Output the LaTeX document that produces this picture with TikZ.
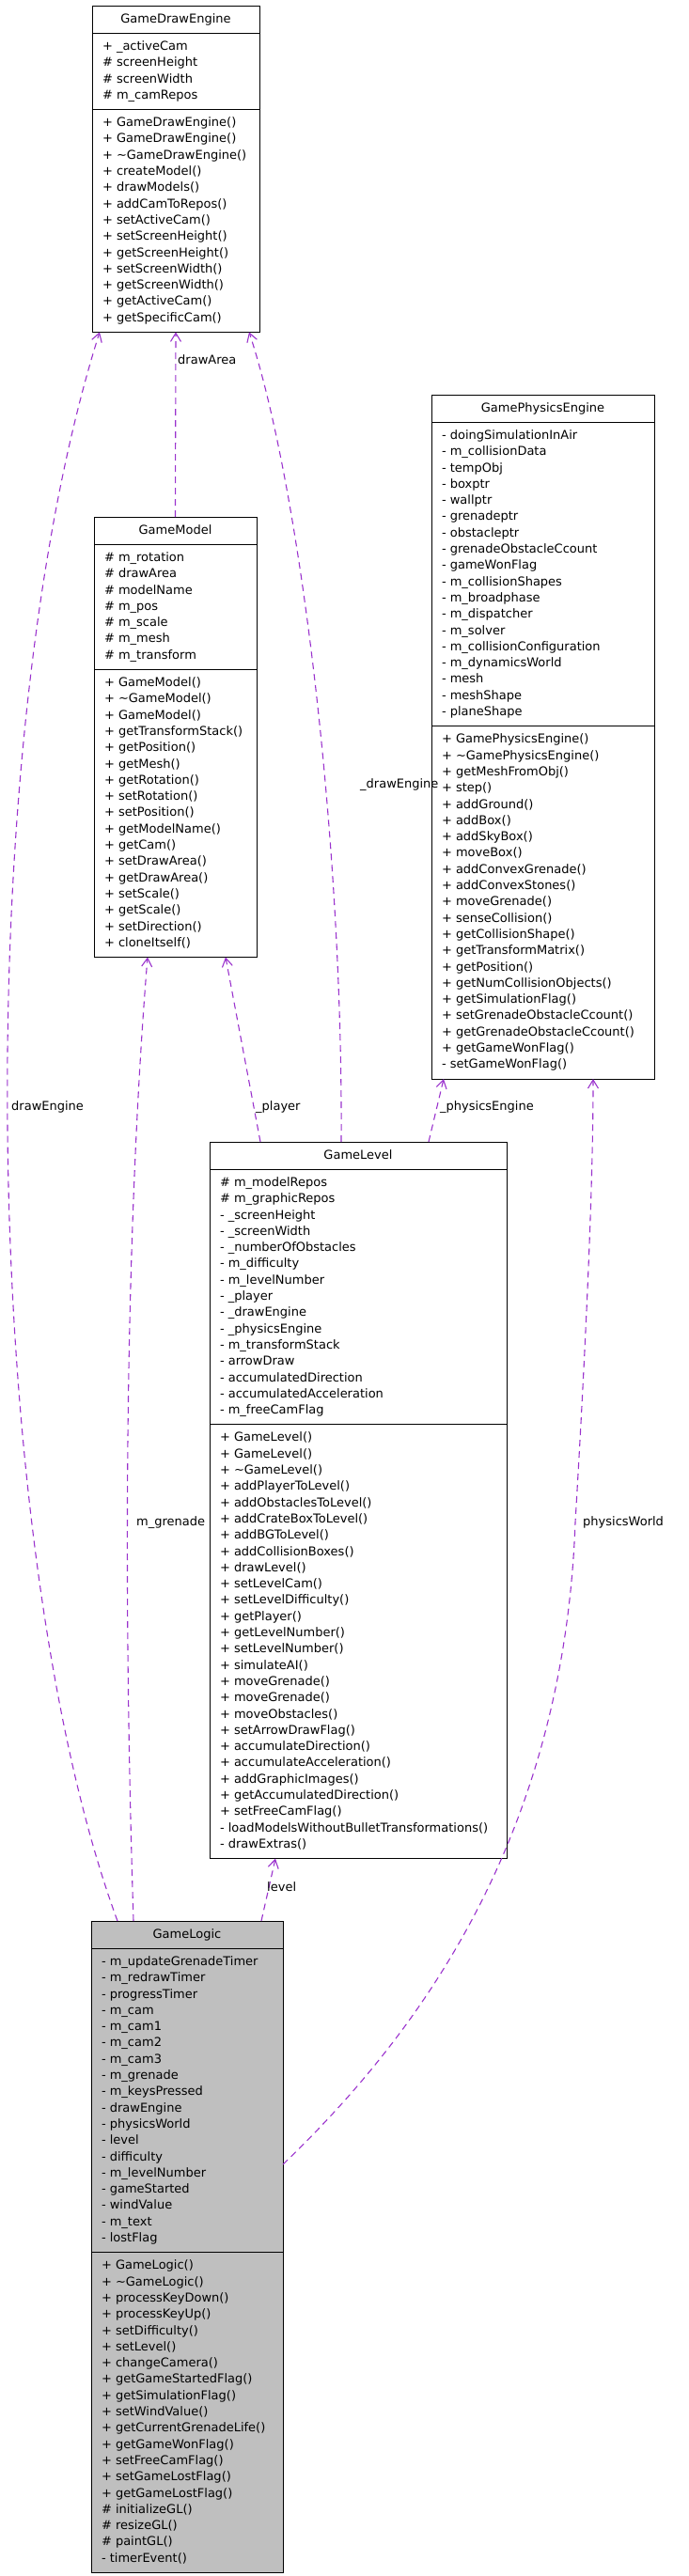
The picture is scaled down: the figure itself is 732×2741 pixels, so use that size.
\documentclass[tikz,border=0pt]{standalone}
\usepackage{fontspec}
\setmainfont{DejaVu Sans}
\usetikzlibrary{shapes.multipart, arrows.meta}
\definecolor{edgepurple}{HTML}{9A32CD}
\definecolor{classgray}{HTML}{BFBFBF}
\newcommand{\classrows}[1]{\begin{tabular}{@{}l@{}}#1\end{tabular}}
\newcommand{\tld}{\textasciitilde}

\begin{document}
\begin{tikzpicture}[x=1pt, y=-1pt,
  font=\fontsize{13}{17.3}\selectfont,
  umlclass/.style={draw=black, line width=1pt, fill=white, anchor=north west,
    rectangle split, rectangle split parts=3,
    rectangle split part align={center,left,left},
    inner xsep=11pt, inner ysep=5.5pt, outer sep=0pt},
  uses/.style={draw=edgepurple, line width=1.1pt, dash pattern=on 7pt off 5pt,
    -{Straight Barb[length=9pt, width=11pt]}},
  lbl/.style={anchor=west, inner sep=0pt}]
\useasboundingbox (0,0) rectangle (732,2741);

% classes
\node[umlclass, minimum width=178] (drawengine) at (98,6) {\strut GameDrawEngine
  \nodepart{two}\classrows{+ \_activeCam\\ \# screenHeight\\ \# screenWidth\\ \# m\_camRepos}
  \nodepart{three}\classrows{+ GameDrawEngine()\\ + GameDrawEngine()\\ + \tld GameDrawEngine()\\
    + createModel()\\ + drawModels()\\ + addCamToRepos()\\ + setActiveCam()\\
    + setScreenHeight()\\ + getScreenHeight()\\ + setScreenWidth()\\ + getScreenWidth()\\
    + getActiveCam()\\ + getSpecificCam()}};

\node[umlclass, minimum width=173] (model) at (100,550) {\strut GameModel
  \nodepart{two}\classrows{\# m\_rotation\\ \# drawArea\\ \# modelName\\ \# m\_pos\\
    \# m\_scale\\ \# m\_mesh\\ \# m\_transform}
  \nodepart{three}\classrows{+ GameModel()\\ + \tld GameModel()\\ + GameModel()\\
    + getTransformStack()\\ + getPosition()\\ + getMesh()\\ + getRotation()\\
    + setRotation()\\ + setPosition()\\ + getModelName()\\ + getCam()\\
    + setDrawArea()\\ + getDrawArea()\\ + setScale()\\ + getScale()\\
    + setDirection()\\ + cloneItself()}};

\node[umlclass, minimum width=237] (physics) at (459,420) {\strut GamePhysicsEngine
  \nodepart{two}\classrows{- doingSimulationInAir\\ - m\_collisionData\\ - tempObj\\
    - boxptr\\ - wallptr\\ - grenadeptr\\ - obstacleptr\\ - grenadeObstacleCcount\\
    - gameWonFlag\\ - m\_collisionShapes\\ - m\_broadphase\\ - m\_dispatcher\\
    - m\_solver\\ - m\_collisionConfiguration\\ - m\_dynamicsWorld\\ - mesh\\
    - meshShape\\ - planeShape}
  \nodepart{three}\classrows{+ GamePhysicsEngine()\\ + \tld GamePhysicsEngine()\\
    + getMeshFromObj()\\ + step()\\ + addGround()\\ + addBox()\\ + addSkyBox()\\
    + moveBox()\\ + addConvexGrenade()\\ + addConvexStones()\\ + moveGrenade()\\
    + senseCollision()\\ + getCollisionShape()\\ + getTransformMatrix()\\
    + getPosition()\\ + getNumCollisionObjects()\\ + getSimulationFlag()\\
    + setGrenadeObstacleCcount()\\ + getGrenadeObstacleCcount()\\
    + getGameWonFlag()\\ - setGameWonFlag()}};

\node[umlclass, minimum width=316] (level) at (223,1215) {\strut GameLevel
  \nodepart{two}\classrows{\# m\_modelRepos\\ \# m\_graphicRepos\\ - \_screenHeight\\
    - \_screenWidth\\ - \_numberOfObstacles\\ - m\_difficulty\\ - m\_levelNumber\\
    - \_player\\ - \_drawEngine\\ - \_physicsEngine\\ - m\_transformStack\\
    - arrowDraw\\ - accumulatedDirection\\ - accumulatedAcceleration\\ - m\_freeCamFlag}
  \nodepart{three}\classrows{+ GameLevel()\\ + GameLevel()\\ + \tld GameLevel()\\
    + addPlayerToLevel()\\ + addObstaclesToLevel()\\ + addCrateBoxToLevel()\\
    + addBGToLevel()\\ + addCollisionBoxes()\\ + drawLevel()\\ + setLevelCam()\\
    + setLevelDifficulty()\\ + getPlayer()\\ + getLevelNumber()\\ + setLevelNumber()\\
    + simulateAI()\\ + moveGrenade()\\ + moveGrenade()\\ + moveObstacles()\\
    + setArrowDrawFlag()\\ + accumulateDirection()\\ + accumulateAcceleration()\\
    + addGraphicImages()\\ + getAccumulatedDirection()\\ + setFreeCamFlag()\\
    - loadModelsWithoutBulletTransformations()\\ - drawExtras()}};

\node[umlclass, minimum width=204, fill=classgray] (logic) at (97,2044) {\strut GameLogic
  \nodepart{two}\classrows{- m\_updateGrenadeTimer\\ - m\_redrawTimer\\ - progressTimer\\
    - m\_cam\\ - m\_cam1\\ - m\_cam2\\ - m\_cam3\\ - m\_grenade\\ - m\_keysPressed\\
    - drawEngine\\ - physicsWorld\\ - level\\ - difficulty\\ - m\_levelNumber\\
    - gameStarted\\ - windValue\\ - m\_text\\ - lostFlag}
  \nodepart{three}\classrows{+ GameLogic()\\ + \tld GameLogic()\\ + processKeyDown()\\
    + processKeyUp()\\ + setDifficulty()\\ + setLevel()\\ + changeCamera()\\
    + getGameStartedFlag()\\ + getSimulationFlag()\\ + setWindValue()\\
    + getCurrentGrenadeLife()\\ + getGameWonFlag()\\ + setFreeCamFlag()\\
    + setGameLostFlag()\\ + getGameLostFlag()\\ \# initializeGL()\\ \# resizeGL()\\
    \# paintGL()\\ - timerEvent()}};

% usage edges
\draw[uses] (model.north) -- (drawengine.south);
\draw[uses] ([xshift=140pt]level.north west) .. controls (365,900) and (320,520) .. ([xshift=167pt]drawengine.south west);
\draw[uses] ([xshift=28pt]logic.north west) .. controls (-20,1650) and (-35,800) .. ([xshift=8pt]drawengine.south west);
\draw[uses] ([xshift=54pt]level.north west) -- ([xshift=140pt]model.south west);
\draw[uses] ([xshift=45pt]logic.north west) .. controls (128,1600) and (138,1250) .. ([xshift=57pt]model.south west);
\draw[uses] ([xshift=233pt]level.north west) -- ([xshift=13pt]physics.south west);
\draw[uses] ([xshift=181pt]logic.north west) -- ([xshift=70pt]level.south west);
\draw[uses] ([yshift=-259pt]logic.north east) .. controls (450,2160) and (600,1950) .. (612,1620)
  .. controls (625,1400) and (631,1250) .. ([xshift=172pt]physics.south west);

% edge labels
\node[lbl] (lbldrawarea) at (189,383) {drawArea};
\node[lbl] (lbldrawengine) at (383,835) {\_drawEngine};
\node[lbl] (lblengine) at (12,1178) {drawEngine};
\node[lbl] (lblplayer) at (272,1178) {\_player};
\node[lbl] (lblphysics) at (468,1178) {\_physicsEngine};
\node[lbl] (lblgrenade) at (145,1620) {m\_grenade};
\node[lbl] (lbllevel) at (284,2008) {level};
\node[lbl] (lblworld) at (620,1620) {physicsWorld};
\end{tikzpicture}
\end{document}
